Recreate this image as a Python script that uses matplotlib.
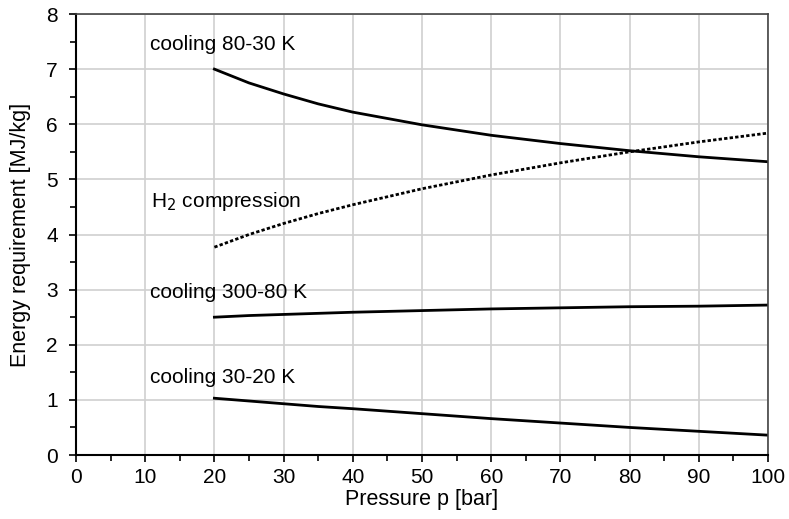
import matplotlib
matplotlib.use("Agg")
import matplotlib.pyplot as plt
from matplotlib.ticker import MultipleLocator

plt.rcParams['font.family'] = ['Liberation Sans', 'DejaVu Sans']

pressure = [20, 25, 30, 35, 40, 50, 60, 70, 80, 90, 100]
cooling_80_30 = [7.00, 6.75, 6.55, 6.37, 6.22, 5.99, 5.80, 5.65, 5.52, 5.41, 5.32]
h2_compression = [3.77, 4.00, 4.20, 4.38, 4.54, 4.83, 5.08, 5.30, 5.50, 5.68, 5.84]
cooling_300_80 = [2.50, 2.53, 2.55, 2.57, 2.59, 2.62, 2.65, 2.67, 2.69, 2.70, 2.72]
cooling_30_20 = [1.03, 0.98, 0.93, 0.88, 0.84, 0.75, 0.66, 0.58, 0.50, 0.43, 0.36]

fig = plt.figure(figsize=(7.89, 5.19), dpi=100)
ax = fig.add_axes([0.0963, 0.1233, 0.8771, 0.8497])

ax.plot(pressure, cooling_80_30, color='black', lw=2)
ax.plot(pressure, h2_compression, color='black', lw=2, linestyle=(0, (1.2, 0.8)))
ax.plot(pressure, cooling_300_80, color='black', lw=2)
ax.plot(pressure, cooling_30_20, color='black', lw=2)

ax.set_xlim(0, 100)
ax.set_ylim(0, 8)
ax.xaxis.set_major_locator(MultipleLocator(10))
ax.xaxis.set_minor_locator(MultipleLocator(5))
ax.yaxis.set_major_locator(MultipleLocator(1))
ax.yaxis.set_minor_locator(MultipleLocator(0.5))
ax.grid(True, which='major', color='#d0d0d0', lw=1.2)
ax.set_axisbelow(True)
ax.tick_params(which='both', direction='out', labelsize=15, width=1.2)
ax.tick_params(which='major', length=5)
ax.tick_params(which='minor', length=4)
ax.tick_params(axis='x', which='major', pad=4)
ax.tick_params(axis='y', which='major', pad=8)
for s in ['left', 'bottom']:
    ax.spines[s].set_linewidth(1.5)
    ax.spines[s].set_color('black')
for s in ['top', 'right']:
    ax.spines[s].set_linewidth(1.2)
    ax.spines[s].set_color('#444444')

ax.set_xlabel('Pressure p [bar]', fontsize=15.5, labelpad=2)
ax.set_ylabel('Energy requirement [MJ/kg]', fontsize=15.5, labelpad=11)

ax.text(10.7, 7.45, 'cooling 80-30 K', fontsize=15, va='center')
ax.text(10.9, 4.6, 'H$_2$ compression', fontsize=15, va='center')
ax.text(10.7, 2.95, 'cooling 300-80 K', fontsize=15, va='center')
ax.text(10.7, 1.4, 'cooling 30-20 K', fontsize=15, va='center')

fig.savefig('out.png', dpi=100)
